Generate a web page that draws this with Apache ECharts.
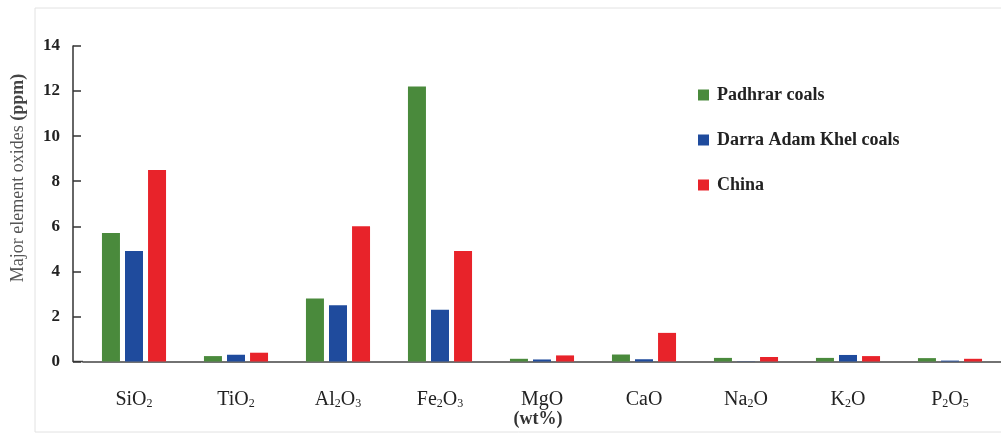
<!DOCTYPE html>
<html>
<head>
<meta charset="utf-8">
<style>
  html, body { margin: 0; padding: 0; background: #fff; }
  #chart { width: 1001px; height: 434px; }
</style>
<script src="https://cdn.jsdelivr.net/npm/echarts@6/dist/echarts.min.js"></script>
</head>
<body>
<div id="chart"></div>
<script>
// Oxide names; digits are rendered as subscripts by the label formatter
const categories = ['SiO2', 'TiO2', 'Al2O3', 'Fe2O3', 'MgO', 'CaO', 'Na2O', 'K2O', 'P2O5'];
const seriesNames = ['Padhrar coals', 'Darra Adam Khel coals', 'China'];
const padhrar = [5.7, 0.24, 2.8, 12.2, 0.12, 0.31, 0.16, 0.16, 0.15];
const darra   = [4.9, 0.30, 2.5, 2.3, 0.09, 0.10, 0.01, 0.29, 0.04];
const china   = [8.5, 0.39, 6.0, 4.9, 0.27, 1.27, 0.20, 0.24, 0.12];
const yTicks  = [0, 2, 4, 6, 8, 10, 12, 14];

const serif = '"Liberation Serif", "DejaVu Serif", serif';
const colors = ['#4a8a3c', '#1f4b9d', '#e8232a'];

function chemLabel(name) {
  return name.replace(/([A-Za-z]+)|(\d+)/g, (m, letters, digits) =>
    letters ? '{n|' + letters + '}' : '{s|' + digits + '}');
}

const chart = echarts.init(document.getElementById('chart'));

const barSeries = [padhrar, darra, china].map((values, i) => ({
  name: seriesNames[i],
  type: 'bar',
  data: values,
  barWidth: 18,
  barGap: '28%',
  itemStyle: { color: colors[i] }
}));

chart.setOption({
  animation: false,
  backgroundColor: '#ffffff',
  graphic: [
    {
      type: 'rect',
      shape: { x: 35, y: 8, width: 1000, height: 424 },
      style: { fill: 'none', stroke: '#e2e2e2', lineWidth: 1 },
      z: -1
    },
    {
      type: 'line',
      shape: { x1: 73, y1: 361.5, x2: 83, y2: 361.5 },
      style: { stroke: '#444', lineWidth: 1.5 }
    },
    {
      type: 'text',
      x: 18,
      y: 178,
      rotation: Math.PI / 2,
      style: {
        text: '{a|Major element oxides }{b|(ppm)}',
        align: 'center',
        verticalAlign: 'middle',
        rich: {
          a: { fontFamily: serif, fontSize: 18, fill: '#555' },
          b: { fontFamily: serif, fontSize: 18, fontWeight: 'bold', fill: '#444' }
        }
      }
    },
    {
      type: 'text',
      x: 538,
      y: 419,
      style: {
        text: '(wt%)',
        align: 'center',
        verticalAlign: 'middle',
        fontFamily: serif,
        fontSize: 18,
        fontWeight: 'bold',
        fill: '#333'
      }
    }
  ],
  legend: {
    orient: 'vertical',
    left: 698,
    top: 86,
    padding: 0,
    itemWidth: 11,
    itemHeight: 11,
    itemGap: 27,
    icon: 'rect',
    data: seriesNames,
    textStyle: {
      fontFamily: serif,
      fontSize: 18,
      fontWeight: 'bold',
      color: '#222',
      padding: [0, 0, 0, 3]
    }
  },
  grid: {
    left: 83,
    top: 46,
    width: 929,
    height: 315.5,
    containLabel: false
  },
  xAxis: {
    type: 'category',
    data: categories,
    axisLine: { lineStyle: { color: '#444', width: 1.5 } },
    axisTick: { show: false },
    axisLabel: {
      interval: 0,
      margin: 26,
      formatter: chemLabel,
      rich: {
        n: { fontFamily: serif, fontSize: 20, color: '#222', lineHeight: 22, verticalAlign: 'bottom' },
        s: { fontFamily: serif, fontSize: 12, color: '#222', lineHeight: 13, verticalAlign: 'bottom' }
      }
    }
  },
  yAxis: {
    type: 'value',
    min: 0,
    max: 14,
    interval: 2,
    offset: 10,
    axisLine: { show: true, lineStyle: { color: '#333', width: 1.5 } },
    axisTick: { show: true, inside: true, length: 8, lineStyle: { color: '#333', width: 1.5 } },
    splitLine: { show: false },
    axisLabel: {
      margin: 13,
      fontFamily: serif,
      fontSize: 17,
      fontWeight: 'bold',
      color: '#222',
      formatter: v => (yTicks.includes(v) ? String(v) : '')
    }
  },
  series: barSeries
});
</script>
</body>
</html>
